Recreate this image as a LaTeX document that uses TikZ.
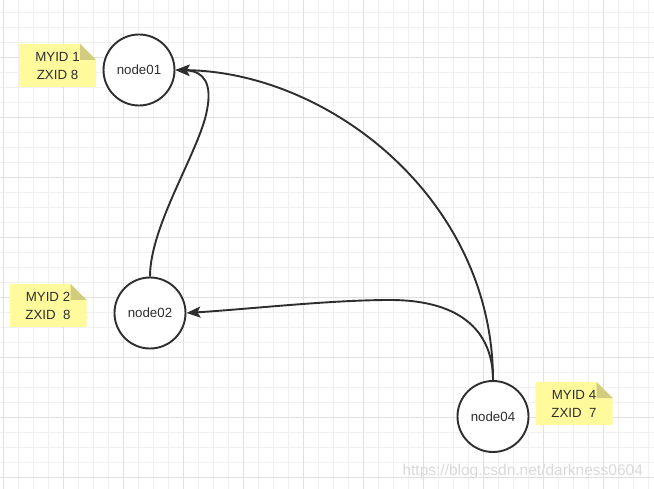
\documentclass[tikz,border=0pt]{standalone}
\usepackage{fontspec}
\setmainfont{Liberation Sans}
\usetikzlibrary{arrows.meta}

\definecolor{inkcol}{HTML}{2E2E2E}
\definecolor{minorgrid}{HTML}{F0F0F0}
\definecolor{majorgrid}{HTML}{E0E0E0}
\definecolor{notefill}{HTML}{FFFA9C}
\definecolor{notefold}{HTML}{D2CD7E}
\definecolor{markcol}{HTML}{D9D9D9}

\tikzset{
  zknode/.style={circle, draw=inkcol, line width=1.9pt, fill=white,
    minimum size=71pt, inner sep=0pt, text=inkcol,
    font=\fontsize{13.3}{16}\selectfont},
  notebox/.style={rectangle, minimum width=77pt, minimum height=43pt,
    inner sep=0pt, align=center, text=inkcol,
    font=\fontsize{13.3}{18}\selectfont,
    path picture={
      \fill[notefill] (path picture bounding box.south west)
        -- (path picture bounding box.north west)
        -- ([xshift=-16pt]path picture bounding box.north east)
        -- ([yshift=-16pt]path picture bounding box.north east)
        -- (path picture bounding box.south east) -- cycle;
      \fill[notefold] ([xshift=-16pt]path picture bounding box.north east)
        -- ([xshift=-16pt,yshift=-16pt]path picture bounding box.north east)
        -- ([yshift=-16pt]path picture bounding box.north east) -- cycle;
    }},
  vote/.style={draw=inkcol, line width=1.9pt,
    -{Stealth[length=14pt,width=11pt,inset=3pt]}},
}

\begin{document}
\begin{tikzpicture}[x=1pt,y=-1pt]
  \useasboundingbox (0,0) rectangle (654,489);
  \fill[white] (0,0) rectangle (654,489);
  % background grid
  \foreach \i in {0,...,43} \draw[minorgrid, line width=1pt] (3.3+15*\i,0) -- (3.3+15*\i,489);
  \foreach \i in {0,...,31} \draw[minorgrid, line width=1pt] (0,12.3+15*\i) -- (654,12.3+15*\i);
  \foreach \i in {0,...,10} \draw[majorgrid, line width=1pt] (3.3+60*\i,0) -- (3.3+60*\i,489);
  \foreach \i in {0,...,7} \draw[majorgrid, line width=1pt] (0,57.3+60*\i) -- (654,57.3+60*\i);

  % servers
  \node[zknode] (n01) at (139,70) {node01};
  \node[zknode] (n02) at (150,313) {node02};
  \node[zknode] (n04) at (493,416.5) {node04};

  % notes
  \node[notebox] (m01) at (57.5,65.5) {MYID 1\\ZXID 8};
  \node[notebox] (m02) at (48,305.5) {MYID 2\\ZXID\ \ 8};
  \node[notebox] (m04) at (574,403.5) {MYID 4\\ZXID\ \ 7};

  % votes
  \draw[vote] (n02.north) .. controls (150,225) and (200,150) .. (207,110)
    .. controls (212,85) and (205,71) .. (n01.east);
  \draw[vote] (n04.north) .. controls (493,200) and (330,72) .. (n01.east);
  \draw[vote] (n04.north) .. controls (493,335) and (465,300) .. (390,300)
    .. controls (330,300) and (250,309) .. (n02.east);

  \node[markcol, anchor=west, font=\fontsize{15.5}{18}\selectfont] (wm) at (399,471) {https://blog.csdn.net/darkness0604};
\end{tikzpicture}
\end{document}
